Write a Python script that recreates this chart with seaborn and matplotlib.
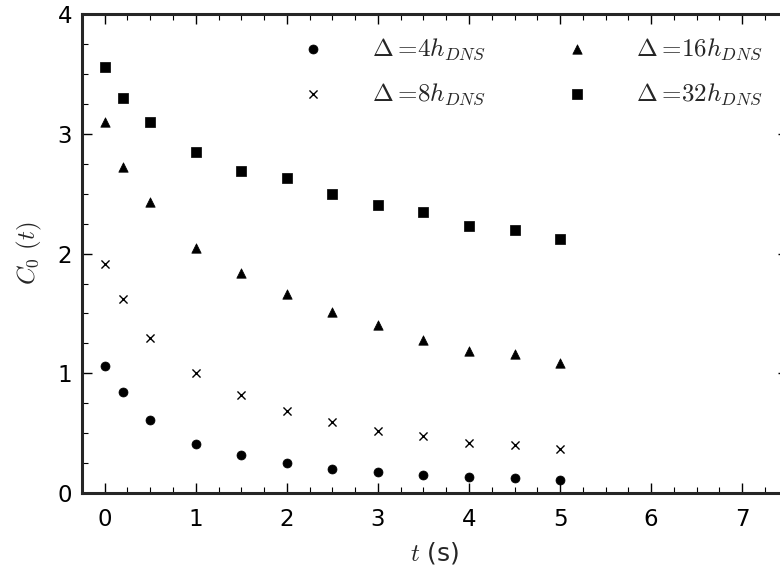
import matplotlib
matplotlib.use("Agg")
import matplotlib.pyplot as plt
from matplotlib.ticker import MultipleLocator
import seaborn as sns
import pandas as pd

# Sampling times (s)
t = [0.0, 0.2, 0.5, 1.0, 1.5, 2.0, 2.5, 3.0, 3.5, 4.0, 4.5, 5.0]

# C_0(t) for each filter width
c0_4h = [1.06, 0.84, 0.607, 0.407, 0.317, 0.248, 0.198, 0.175, 0.153, 0.134, 0.123, 0.109]
c0_8h = [1.91, 1.62, 1.294, 1.0, 0.816, 0.687, 0.59, 0.52, 0.479, 0.42, 0.403, 0.365]
c0_16h = [3.10, 2.72, 2.43, 2.05, 1.835, 1.66, 1.51, 1.40, 1.28, 1.19, 1.16, 1.09]
c0_32h = [3.557, 3.296, 3.10, 2.85, 2.69, 2.63, 2.50, 2.41, 2.35, 2.23, 2.20, 2.12]

labels = [r"$\Delta=\!4h_{DNS}$", r"$\Delta=\!8h_{DNS}$",
          r"$\Delta=\!16h_{DNS}$", r"$\Delta=\!32h_{DNS}$"]

sns.set_style("ticks")
plt.rcParams["font.family"] = ["DejaVu Sans"]
plt.rcParams["mathtext.fontset"] = "cm"

fig = plt.figure(figsize=(7.8, 5.68), dpi=100)
ax = fig.add_axes([0.105, 0.132, 0.905, 0.843])

series = [
    (c0_4h, "o", 42, None),
    (c0_8h, "x", 34, 1.0),
    (c0_16h, "^", 46, None),
    (c0_32h, "s", 50, None),
]
for (vals, mk, size, lw), lab in zip(series, labels):
    df = pd.DataFrame({"t": t, "C0": vals})
    kw = dict(data=df, x="t", y="C0", marker=mk, s=size, color="black", ax=ax, label=lab)
    if lw is not None:
        kw["linewidth"] = lw
    else:
        kw["edgecolor"] = "black"
        kw["linewidth"] = 0.5
    sns.scatterplot(**kw)

ax.set_xlim(-0.25, 7.5)
ax.set_ylim(0, 4)
ax.xaxis.set_major_locator(MultipleLocator(1))
ax.xaxis.set_minor_locator(MultipleLocator(0.25))
ax.yaxis.set_major_locator(MultipleLocator(1))
ax.yaxis.set_minor_locator(MultipleLocator(0.25))

for sp in ax.spines.values():
    sp.set_linewidth(2.2)
    sp.set_visible(True)

ax.tick_params(which="both", direction="in", top=True, right=True, colors="black")
ax.tick_params(which="major", length=7.5, width=1.0, labelsize=16.5)
ax.tick_params(which="minor", length=4, width=0.8)
ax.tick_params(axis="x", which="major", pad=11)
ax.tick_params(axis="y", which="major", pad=7)

ax.set_xlabel(r"$t$ (s)", fontsize=18, labelpad=6)
ax.set_ylabel(r"$C_0\ (t)$", fontsize=18, labelpad=10)

ax.legend(ncol=2, frameon=False, fontsize=18, loc="upper left",
          bbox_to_anchor=(0.2776, 0.975), handlelength=2.0, handletextpad=1.36,
          columnspacing=2.64, labelspacing=0.77, borderaxespad=0.0)

fig.savefig("out.png", dpi=100)
